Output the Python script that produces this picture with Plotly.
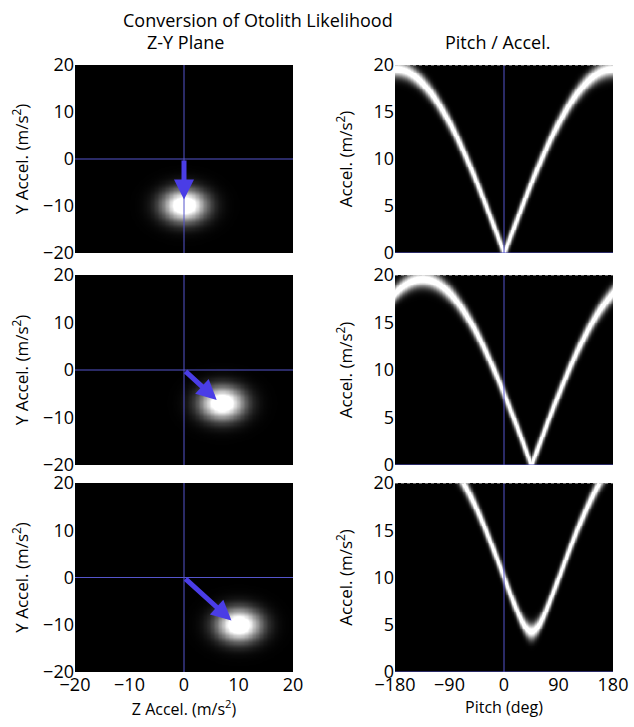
import numpy as np
import plotly.graph_objects as go

# ---- data ----
G = 9.8                                   # gravity magnitude (m/s^2)
meas_z = [0.0, 6.93, 10.0]                # measured otolith Z accel per row
meas_y = [-9.8, -6.93, -10.0]             # measured otolith Y accel per row
arrow_tip_z = [0.0, 6.0, 8.7]             # arrow tip (Z) per row
arrow_tip_y = [-8.6, -6.3, -9.1]          # arrow tip (Y) per row
blob_sigma_z = 2.8
blob_sigma_y = 2.4
curve_sigma = 0.6

zy_ticks = [-20, -10, 0, 10, 20]
acc_ticks = [0, 5, 10, 15, 20]
pitch_ticks = [-180, -90, 0, 90, 180]

title_text = "Conversion of Otolith Likelihood"
left_title = "Z-Y Plane"
right_title = "Pitch / Accel."

# ---- grids ----
zg = np.linspace(-20, 20, 161)
yg = np.linspace(-20, 20, 161)
th = np.linspace(-180, 180, 361)
ag = np.linspace(0, 20, 201)

W, H = 634, 727
def xd(a, b): return [a / W, b / W]
def yd(t, b): return [1 - b / H, 1 - t / H]

left_x = xd(75, 293)
right_x = xd(395, 613)
rows_y = [yd(65, 253), yd(275, 465), yd(483, 672)]

FONT = "Open Sans"
BLUE_LINE = "#5555cc"
ARROW = "#4a3de6"

fig = go.Figure()
layout = dict(width=W, height=H, margin=dict(l=0, r=0, t=0, b=0, autoexpand=False),
              paper_bgcolor="white", plot_bgcolor="black",
              font=dict(family=FONT, color="black", size=17), showlegend=False)
shapes = []
annotations = []
gray = [[0, "black"], [1, "white"]]

for i in range(3):
    lx = "x" if i == 0 else f"x{2*i+1}"
    rx = f"x{2*i+2}"
    ly = "y" if i == 0 else f"y{2*i+1}"
    ry = f"y{2*i+2}"
    lxa = "xaxis" if i == 0 else f"xaxis{2*i+1}"
    rxa = f"xaxis{2*i+2}"
    lya = "yaxis" if i == 0 else f"yaxis{2*i+1}"
    rya = f"yaxis{2*i+2}"

    Zm, Ym = np.meshgrid(zg, yg)
    blob = np.exp(-((Zm - meas_z[i]) ** 2) / (2 * blob_sigma_z ** 2)
                  - ((Ym - meas_y[i]) ** 2) / (2 * blob_sigma_y ** 2)).astype(np.float32)
    fig.add_trace(go.Heatmap(x=zg, y=yg, z=blob, colorscale=gray, zmin=0, zmax=0.78,
                             showscale=False, zsmooth="best", hoverinfo="skip",
                             xaxis=lx, yaxis=ly))

    T, A = np.meshgrid(np.radians(th), ag)
    pred = np.sqrt((meas_z[i] - G * np.sin(T)) ** 2 + (meas_y[i] + G * np.cos(T)) ** 2)
    curve = np.exp(-((A - pred) ** 2) / (2 * curve_sigma ** 2)).astype(np.float32)
    fig.add_trace(go.Heatmap(x=th, y=ag, z=curve, colorscale=gray, zmin=0, zmax=0.9,
                             showscale=False, zsmooth="best", hoverinfo="skip",
                             xaxis=rx, yaxis=ry))

    bottom = (i == 2)
    common = dict(showgrid=False, zeroline=False, ticks="", automargin=False,
                  tickfont=dict(size=18))
    layout[lxa] = dict(domain=left_x, range=[-20, 20], tickvals=zy_ticks,
                       showticklabels=bottom, anchor=ly,
                       title=dict(text="Z Accel. (m/s<sup>2</sup>)" if bottom else "",
                                  font=dict(size=16), standoff=3), **common)
    layout[lya] = dict(domain=rows_y[i], range=[-20, 20], tickvals=zy_ticks,
                       anchor=lx,
                       title=dict(text="Y Accel. (m/s<sup>2</sup>)", font=dict(size=17),
                                  standoff=10), **common)
    layout[rxa] = dict(domain=right_x, range=[-180, 180], tickvals=pitch_ticks,
                       showticklabels=bottom, anchor=ry,
                       title=dict(text="Pitch (deg)" if bottom else "",
                                  font=dict(size=16), standoff=3), **common)
    layout[rya] = dict(domain=rows_y[i], range=[0, 20], tickvals=acc_ticks,
                       anchor=rx,
                       title=dict(text="Accel. (m/s<sup>2</sup>)", font=dict(size=17),
                                  standoff=16), **common)

    # crosshair lines
    shapes.append(dict(type="line", xref=lx, yref=ly, x0=0, x1=0, y0=-20, y1=20,
                       line=dict(color=BLUE_LINE, width=1), layer="above"))
    shapes.append(dict(type="line", xref=lx, yref=ly, x0=-20, x1=20, y0=0, y1=0,
                       line=dict(color=BLUE_LINE, width=1), layer="above"))
    shapes.append(dict(type="line", xref=rx, yref=ry, x0=0, x1=0, y0=0, y1=20,
                       line=dict(color=BLUE_LINE, width=1), layer="above"))
    shapes.append(dict(type="line", xref=rx, yref=ry, x0=-180, x1=180, y0=0, y1=0,
                       line=dict(color=BLUE_LINE, width=1), layer="above"))
    shapes.append(dict(type="line", xref=rx, yref=ry, x0=-180, x1=180, y0=20, y1=20,
                       line=dict(color="#c8c8c8", width=1, dash="dot"), layer="above"))

    annotations.append(dict(xref=lx, yref=ly, axref=lx, ayref=ly,
                            x=arrow_tip_z[i], y=arrow_tip_y[i], ax=0, ay=0,
                            text="", showarrow=True, arrowhead=2, arrowsize=0.8,
                            arrowwidth=5, arrowcolor=ARROW))

annotations.append(dict(xref="paper", yref="paper", x=258 / W, y=1 - 20 / H,
                        text=title_text, showarrow=False, font=dict(size=18),
                        xanchor="center", yanchor="middle"))
annotations.append(dict(xref="paper", yref="paper", x=185 / W, y=1 - 42 / H,
                        text=left_title, showarrow=False, font=dict(size=18),
                        xanchor="center", yanchor="middle"))
annotations.append(dict(xref="paper", yref="paper", x=497 / W, y=1 - 42 / H,
                        text=right_title, showarrow=False, font=dict(size=18),
                        xanchor="center", yanchor="middle"))

layout["shapes"] = shapes
layout["annotations"] = annotations
fig.update_layout(**layout)
fig.write_html("out.html", config={"displayModeBar": False},
               post_script="document.body.style.margin='0';document.body.style.overflow='hidden';")
